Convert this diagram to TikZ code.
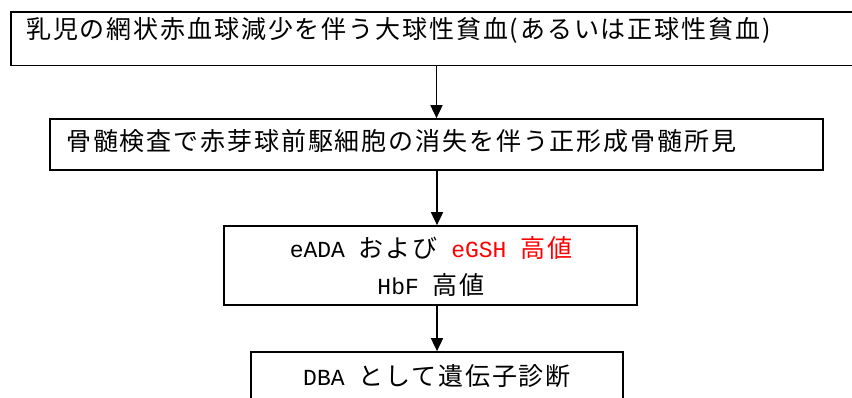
\documentclass[tikz,border=0pt]{standalone}
\usepackage{fontspec}
\usetikzlibrary{arrows.meta}
\newfontfamily\jp[LetterSpace=7.5]{Noto Sans CJK JP}
\newfontfamily\lat{Liberation Mono}
\newcommand{\latf}{\lat\fontsize{23}{28}\selectfont}
\tikzset{
  box/.style={draw=black, line width=1.7pt, fill=none, inner sep=0pt, rectangle},
  txt/.style={inner sep=0pt, anchor=base west, font=\jp\fontsize{25}{30}\selectfont},
  ctxt/.style={inner sep=0pt, anchor=base, font=\jp\fontsize{25}{30}\selectfont},
  arr/.style={line width=1.7pt, -{Triangle[width=12pt,length=13pt]}},
}
\begin{document}
\begin{tikzpicture}[x=1pt,y=-1pt]
\clip (0,0) rectangle (852,397);
\fill[white] (0,0) rectangle (852,397);
% boxes
\node[box, minimum width=859pt, minimum height=53.5pt] (b1) at (440.5,38.7) {};
\node[box, minimum width=773pt, minimum height=51pt] (b2) at (436.5,144.5) {};
\node[box, minimum width=413pt, minimum height=79pt] (b3) at (430.5,265.5) {};
\node[box, minimum width=372pt, minimum height=68pt] (b4) at (437,386) {};
% texts
\node[txt] (t1) at (26,38.5) {乳児の網状赤血球減少を伴う大球性貧血(あるいは正球性貧血)};
\node[txt] (t2) at (66,150.5) {骨髄検査で赤芽球前駆細胞の消失を伴う正形成骨髄所見};
\node[ctxt] (t3) at (431,257.5) {{\latf eADA }および{\latf\ }\textcolor{red}{{\latf eGSH }高値}};
\node[ctxt] (t4) at (431,294) {{\latf HbF }高値};
\node[ctxt] (t5) at (437,385) {{\latf DBA }として遺伝子診断};
% arrows
\draw[arr] (b2.north |- b1.south) -- (b2.north);
\draw[arr] (b4.north |- b2.south) -- (b4.north |- b3.north);
\draw[arr] (b4.north |- b3.south) -- (b4.north);
\end{tikzpicture}
\end{document}
